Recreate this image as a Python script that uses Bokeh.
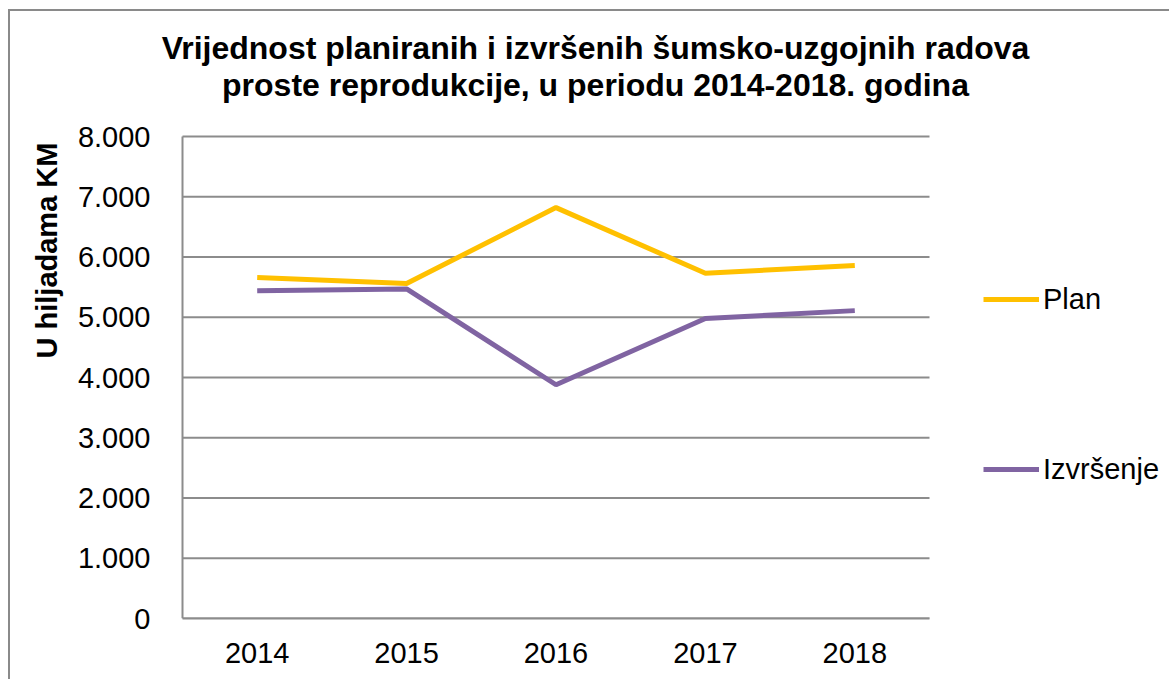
from bokeh.plotting import figure
from bokeh.models import (Range1d, FixedTicker, Legend, LegendItem, Label,
                          ColumnDataSource, Title)
from bokeh.embed import file_html
from bokeh.resources import INLINE

years = ["2014", "2015", "2016", "2017", "2018"]
plan = [5660, 5560, 6820, 5730, 5860]
izvrsenje = [5440, 5470, 3880, 4980, 5110]
y_ticks = [0, 1000, 2000, 3000, 4000, 5000, 6000, 7000, 8000]
y_tick_labels = ["0", "1.000", "2.000", "3.000", "4.000", "5.000", "6.000", "7.000", "8.000"]
title_lines = ["Vrijednost planiranih i izvršenih šumsko-uzgojnih radova",
               "proste reprodukcije, u periodu 2014-2018. godina"]
y_label = "U hiljadama KM"
series_names = ["Plan", "Izvršenje"]

FONT = "Liberation Sans"
GRID = "#8c8c8c"
BORDER = "#8a8a8a"

W, H = 1169, 679
FRAME_LEFT, BOTTOM = 160, 61     # outer margins of the frame
AXIS_X = 182                     # pixel position of the value axis line
PLOT_W, PLOT_H = 747, 482        # size of the gridded plot area
frame_w, frame_h = W - FRAME_LEFT, H - BOTTOM
n = len(years)
y_max = y_ticks[-1]

x_pos = [i + 0.5 for i in range(n)]
x_start = -(AXIS_X - FRAME_LEFT) / PLOT_W * n
x_end = x_start + n * frame_w / PLOT_W
y_end = y_max * frame_h / PLOT_H

p = figure(width=W, height=H, x_range=Range1d(x_start, x_end), y_range=Range1d(0, y_end),
           output_backend="svg", toolbar_location=None,
           min_border_left=FRAME_LEFT, min_border_right=0, min_border_top=0,
           min_border_bottom=BOTTOM)
grad = f"linear-gradient({BORDER},{BORDER})"
p.styles = {"background": f"{grad} 8px 9px / 2px calc(100% - 9px) no-repeat, "
                          f"{grad} 8px 9px / calc(100% - 8px) 2px no-repeat, white"}
p.outline_line_color = None
p.background_fill_color = None
p.border_fill_color = None
p.grid.visible = False

p.yaxis.ticker = FixedTicker(ticks=y_ticks)
p.yaxis.major_label_overrides = {t: l for t, l in zip(y_ticks, y_tick_labels)}
p.yaxis.axis_line_color = None
p.xaxis.ticker = FixedTicker(ticks=x_pos)
p.xaxis.major_label_overrides = {x: y for x, y in zip(x_pos, years)}
p.xaxis.bounds = (0, n)
p.xaxis.axis_line_color = GRID
p.xaxis.axis_line_width = 2
for ax in (p.xaxis, p.yaxis):
    ax.major_tick_line_color = None
    ax.minor_tick_line_color = None
    ax.major_label_text_font = FONT
    ax.major_label_text_font_size = "29px"
    ax.major_label_text_color = "black"
p.yaxis.major_label_standoff = 4
p.xaxis.major_label_standoff = 18

# horizontal gridlines limited to the category area, plus the value-axis line
p.segment(x0=[0] * len(y_ticks), x1=[n] * len(y_ticks), y0=y_ticks, y1=y_ticks,
          line_color=GRID, line_width=2)
p.segment(x0=[0], x1=[0], y0=[0], y1=[y_max], line_color=GRID, line_width=2)

src = ColumnDataSource(dict(x=x_pos, plan=plan, izv=izvrsenje))
r1 = p.line("x", "plan", source=src, line_color="#FFC000", line_width=5)
r2 = p.line("x", "izv", source=src, line_color="#8064A2", line_width=5)

legend = Legend(items=[LegendItem(label=series_names[0], renderers=[r1]),
                       LegendItem(label=series_names[1], renderers=[r2])],
                location=(823, 64), orientation="vertical",
                border_line_color=None, background_fill_alpha=0,
                padding=0, margin=0, spacing=0,
                glyph_width=56, glyph_height=170, label_height=170, label_standoff=4,
                label_text_font=FONT, label_text_font_size="29px",
                label_text_color="black")
p.add_layout(legend, "center")

for line, yb in zip(title_lines, [571, 534]):
    p.add_layout(Label(x=435, y=yb, x_units="screen", y_units="screen", text=line,
                       text_align="center", text_baseline="alphabetic",
                       text_font=FONT, text_font_size="32px", text_font_style="bold",
                       text_color="black"))

p.add_layout(Title(text=y_label, align="left", offset=260, standoff=24,
                   text_font=FONT, text_font_size="29px", text_font_style="bold",
                   text_color="black"), "left")

open("out.html", "w").write(file_html(p, INLINE))
